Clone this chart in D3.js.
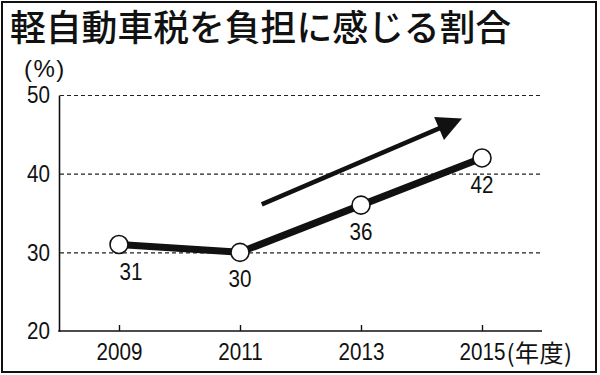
<!DOCTYPE html>
<html>
<head>
<meta charset="utf-8">
<script src="https://cdn.jsdelivr.net/npm/d3@7"></script>
<style>
  html, body { margin: 0; padding: 0; background: #fff; }
  svg { display: block; }
</style>
</head>
<body>
<div id="chart"></div>
<script>
const width = 600;
const height = 375;

// data
const years = [2009, 2011, 2013, 2015];
const shares = [31, 30, 36, 42];
const yTicks = [20, 30, 40, 50];
const gridTicks = [30, 40, 50];
const title = "軽自動車税を負担に感じる割合";
const unitY = "(%)";
const unitX = "(年度)";
// trend arrow, in data units: [year, percent]
const trendFrom = [2011.36, 36.1];
const trendTo = [2014.67, 47.0];

const numFont = "'Liberation Sans', Arial, sans-serif";
const jpFont = "'Noto Sans CJK JP', 'Noto Sans', sans-serif";
const numSize = '24px';
const squeeze = 0.86;

// squeeze digits sideways, the original uses a condensed face
function narrow(sel, k) {
  sel.each(function() {
    const el = d3.select(this);
    const x0 = +(el.attr('x') || 0);
    el.attr('x', x0 / k).attr('transform', 'scale(' + k + ',1)');
  });
}

const svg = d3.select('#chart')
  .append('svg')
  .attr('width', width)
  .attr('height', height);

// frame
svg.append('rect')
  .attr('x', 2).attr('y', 2)
  .attr('width', 594).attr('height', 370)
  .attr('fill', '#fff')
  .attr('stroke', '#111')
  .attr('stroke-width', 2);

svg.append('text')
  .text(title)
  .attr('x', 10)
  .attr('y', 41)
  .attr('font-family', jpFont)
  .attr('font-weight', 500)
  .attr('font-size', '35.8px')
  .attr('fill', '#111');

const x = d3.scaleLinear().domain([2009, 2015]).range([119, 482]);
const y = d3.scaleLinear().domain([20, 50]).range([331, 95]);
const plotLeft = 59, plotRight = 542;

// dashed grid
svg.append('g')
  .selectAll('line')
  .data(gridTicks)
  .enter()
  .append('line')
  .attr('x1', plotLeft + 1)
  .attr('x2', plotRight)
  .attr('y1', d => y(d) + 0.5)
  .attr('y2', d => y(d) + 0.5)
  .attr('stroke', '#222')
  .attr('stroke-width', 1.2)
  .attr('stroke-dasharray', '4,3');

// y axis
const yAxis = svg.append('g')
  .attr('transform', 'translate(' + plotLeft + ',0)')
  .call(d3.axisLeft(y).tickValues(yTicks).tickSize(0).tickPadding(9));
yAxis.select('.domain').attr('stroke', '#111').attr('stroke-width', 1.6);
yAxis.selectAll('text')
  .attr('font-family', numFont)
  .attr('font-size', numSize)
  .attr('fill', '#111')
  .call(narrow, squeeze);

svg.append('text')
  .text(unitY)
  .attr('x', 24)
  .attr('y', 68)
  .attr('dominant-baseline', 'central')
  .attr('font-family', numFont)
  .attr('font-size', '24px')
  .attr('letter-spacing', '1.5px')
  .attr('fill', '#111');

// x axis
svg.append('line')
  .attr('x1', plotLeft - 0.8).attr('x2', plotRight)
  .attr('y1', y(20)).attr('y2', y(20))
  .attr('stroke', '#111')
  .attr('stroke-width', 1.6);

const xAxis = svg.append('g')
  .attr('transform', 'translate(0,' + y(20) + ')')
  .call(d3.axisBottom(x).tickValues(years).tickFormat(d3.format('d'))
    .tickSizeInner(-6).tickSizeOuter(0).tickPadding(12));
xAxis.select('.domain').remove();
xAxis.selectAll('line').attr('stroke', '#111').attr('stroke-width', 1.4);
xAxis.selectAll('text')
  .attr('font-family', numFont)
  .attr('font-size', numSize)
  .attr('fill', '#111')
  .call(narrow, squeeze);

// unit after the last year label
const lastLabel = xAxis.selectAll('text').filter(d => d === years[years.length - 1]);
const lastWidth = lastLabel.node().getBBox().width * squeeze;
svg.append('text')
  .text(unitX)
  .attr('x', x(years[years.length - 1]) + lastWidth / 2 + 1.5)
  .attr('y', 351)
  .attr('dominant-baseline', 'central')
  .attr('font-family', jpFont)
  .attr('font-size', '24px')
  .attr('letter-spacing', '0.5px')
  .attr('fill', '#111');

// trend arrow
const ax0 = x(trendFrom[0]), ay0 = y(trendFrom[1]);
const ax1 = x(trendTo[0]), ay1 = y(trendTo[1]);
const alen = Math.hypot(ax1 - ax0, ay1 - ay0);
const ux = (ax1 - ax0) / alen, uy = (ay1 - ay0) / alen;
const headLen = 25, headHalf = 12.5;
const bx = ax1 - ux * headLen, by = ay1 - uy * headLen;
svg.append('line')
  .attr('x1', ax0).attr('y1', ay0)
  .attr('x2', bx + ux * 2).attr('y2', by + uy * 2)
  .attr('stroke', '#111')
  .attr('stroke-width', 4.5);
svg.append('polygon')
  .attr('points', [
    [ax1, ay1],
    [bx - uy * headHalf, by + ux * headHalf],
    [bx + uy * headHalf, by - ux * headHalf]
  ].map(p => p.join(',')).join(' '))
  .attr('fill', '#111');

// series
const points = years.map((yr, i) => ({ year: yr, value: shares[i] }));

svg.append('path')
  .datum(points)
  .attr('d', d3.line().x(d => x(d.year)).y(d => y(d.value)))
  .attr('fill', 'none')
  .attr('stroke', '#111')
  .attr('stroke-width', 7)
  .attr('stroke-linejoin', 'round');

svg.append('g')
  .selectAll('circle')
  .data(points)
  .enter()
  .append('circle')
  .attr('cx', d => x(d.year))
  .attr('cy', d => y(d.value))
  .attr('r', 9)
  .attr('fill', '#fff')
  .attr('stroke', '#111')
  .attr('stroke-width', 1.6);

svg.append('g')
  .selectAll('text')
  .data(points)
  .enter()
  .append('text')
  .text(d => d.value)
  .attr('x', (d, i) => x(d.year) + (i === 0 ? 12 : 0))
  .attr('y', d => y(d.value) + 27)
  .attr('text-anchor', 'middle')
  .attr('dominant-baseline', 'central')
  .attr('font-family', numFont)
  .attr('font-size', numSize)
  .attr('fill', '#111')
  .call(narrow, squeeze);
</script>
</body>
</html>
